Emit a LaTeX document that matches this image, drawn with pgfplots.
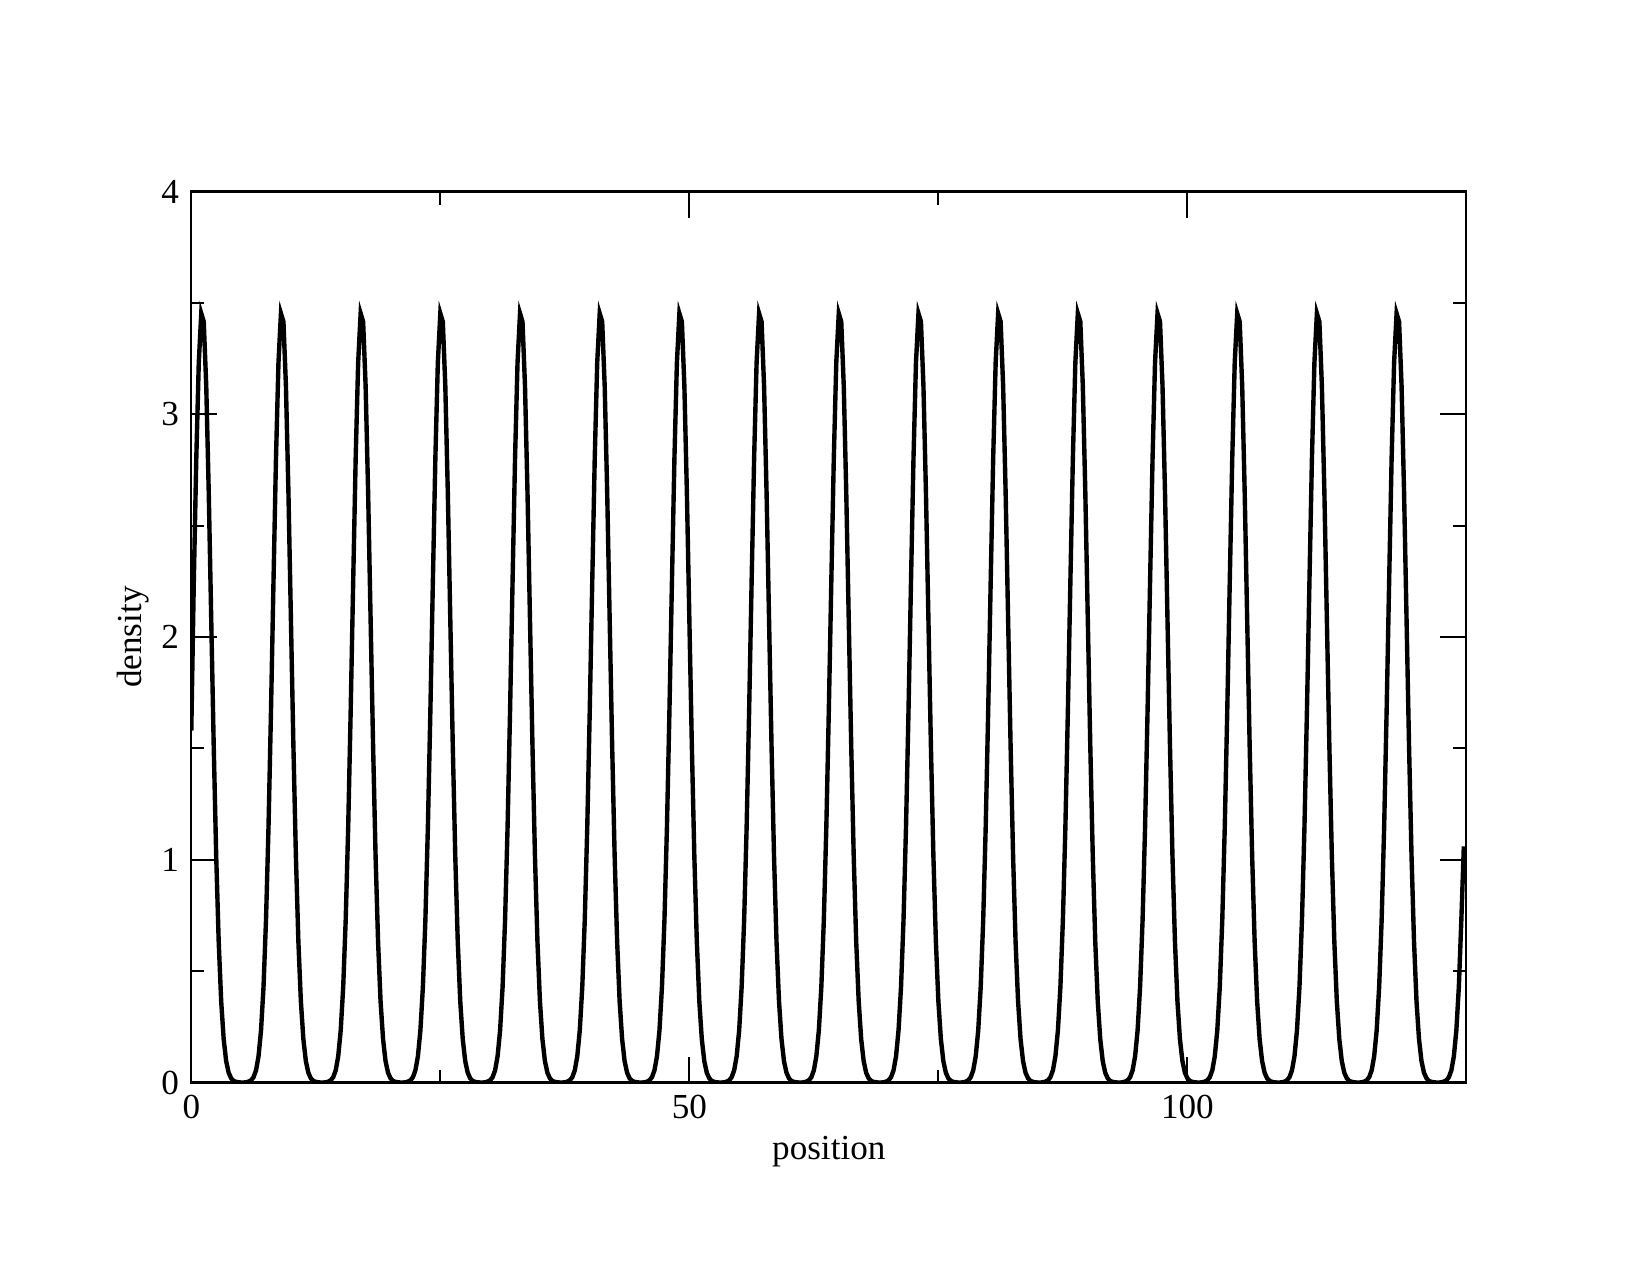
\documentclass[border=0pt]{standalone}
\usepackage{fontspec}
\setmainfont{Liberation Serif}
\usepackage{pgfplots}
\pgfplotsset{compat=1.18}

\begin{document}
\begin{tikzpicture}
% page frame: 1651 x 1275 px at 0.01cm per px
\path (0,0) rectangle (16.51cm,12.75cm);
\begin{axis}[
  at={(1.913cm,1.925cm)}, anchor=south west,
  scale only axis, width=12.75cm, height=8.91cm,
  xmin=0, xmax=128, ymin=0, ymax=4,
  xtick={0,50,100}, ytick={0,1,2,3,4},
  minor x tick num=1, minor y tick num=1,
  tick align=inside, major tick length=0.26cm, minor tick length=0.13cm,
  tick style={black, line width=0.6pt},
  axis line style={line width=0.6pt},
  ticklabel style={font=\fontsize{10}{12}\selectfont},
  /pgf/number format/assume math mode=true,
  xlabel={position}, ylabel={density},
  label style={font=\fontsize{10}{12}\selectfont},
  xlabel style={at={(axis description cs:0.5,-0.077)}, anchor=center},
  ylabel style={at={(axis description cs:-0.0455,0.5)}, anchor=center},
]
\addplot[black, line width=1.25pt] coordinates {
(0,1.58) (0.25,2.245) (0.5,2.799) (0.75,3.231) (1,3.453) (1.25,3.416) (1.5,3.128) (1.75,2.652) (2,2.081) (2.25,1.512) (2.5,1.017) (2.75,0.633) (3,0.365) (3.25,0.195) (3.5,0.096) (3.75,0.044) (4,0.019) (4.25,0.007) (4.5,0.003) (4.75,0.001) (5,0) (5.25,0) (5.5,0.001) (5.75,0.004) (6,0.010) (6.25,0.024) (6.5,0.055) (6.75,0.118) (7,0.234) (7.25,0.429) (7.5,0.729) (7.75,1.145)
(8,1.667) (8.25,2.245) (8.5,2.799) (8.75,3.231) (9,3.453) (9.25,3.416) (9.5,3.128) (9.75,2.652) (10,2.081) (10.25,1.512) (10.5,1.017) (10.75,0.633) (11,0.365) (11.25,0.195) (11.5,0.096) (11.75,0.044) (12,0.019) (12.25,0.007) (12.5,0.003) (12.75,0.001) (13,0) (13.25,0) (13.5,0.001) (13.75,0.004) (14,0.010) (14.25,0.024) (14.5,0.055) (14.75,0.118) (15,0.234) (15.25,0.429) (15.5,0.729) (15.75,1.145)
(16,1.667) (16.25,2.245) (16.5,2.799) (16.75,3.231) (17,3.453) (17.25,3.416) (17.5,3.128) (17.75,2.652) (18,2.081) (18.25,1.512) (18.5,1.017) (18.75,0.633) (19,0.365) (19.25,0.195) (19.5,0.096) (19.75,0.044) (20,0.019) (20.25,0.007) (20.5,0.003) (20.75,0.001) (21,0) (21.25,0) (21.5,0.001) (21.75,0.004) (22,0.010) (22.25,0.024) (22.5,0.055) (22.75,0.118) (23,0.234) (23.25,0.429) (23.5,0.729) (23.75,1.145)
(24,1.667) (24.25,2.245) (24.5,2.799) (24.75,3.231) (25,3.453) (25.25,3.416) (25.5,3.128) (25.75,2.652) (26,2.081) (26.25,1.512) (26.5,1.017) (26.75,0.633) (27,0.365) (27.25,0.195) (27.5,0.096) (27.75,0.044) (28,0.019) (28.25,0.007) (28.5,0.003) (28.75,0.001) (29,0) (29.25,0) (29.5,0.001) (29.75,0.004) (30,0.010) (30.25,0.024) (30.5,0.055) (30.75,0.118) (31,0.234) (31.25,0.429) (31.5,0.729) (31.75,1.145)
(32,1.667) (32.25,2.245) (32.5,2.799) (32.75,3.231) (33,3.453) (33.25,3.416) (33.5,3.128) (33.75,2.652) (34,2.081) (34.25,1.512) (34.5,1.017) (34.75,0.633) (35,0.365) (35.25,0.195) (35.5,0.096) (35.75,0.044) (36,0.019) (36.25,0.007) (36.5,0.003) (36.75,0.001) (37,0) (37.25,0) (37.5,0.001) (37.75,0.004) (38,0.010) (38.25,0.024) (38.5,0.055) (38.75,0.118) (39,0.234) (39.25,0.429) (39.5,0.729) (39.75,1.145)
(40,1.667) (40.25,2.245) (40.5,2.799) (40.75,3.231) (41,3.453) (41.25,3.416) (41.5,3.128) (41.75,2.652) (42,2.081) (42.25,1.512) (42.5,1.017) (42.75,0.633) (43,0.365) (43.25,0.195) (43.5,0.096) (43.75,0.044) (44,0.019) (44.25,0.007) (44.5,0.003) (44.75,0.001) (45,0) (45.25,0) (45.5,0.001) (45.75,0.004) (46,0.010) (46.25,0.024) (46.5,0.055) (46.75,0.118) (47,0.234) (47.25,0.429) (47.5,0.729) (47.75,1.145)
(48,1.667) (48.25,2.245) (48.5,2.799) (48.75,3.231) (49,3.453) (49.25,3.416) (49.5,3.128) (49.75,2.652) (50,2.081) (50.25,1.512) (50.5,1.017) (50.75,0.633) (51,0.365) (51.25,0.195) (51.5,0.096) (51.75,0.044) (52,0.019) (52.25,0.007) (52.5,0.003) (52.75,0.001) (53,0) (53.25,0) (53.5,0.001) (53.75,0.004) (54,0.010) (54.25,0.024) (54.5,0.055) (54.75,0.118) (55,0.234) (55.25,0.429) (55.5,0.729) (55.75,1.145)
(56,1.667) (56.25,2.245) (56.5,2.799) (56.75,3.231) (57,3.453) (57.25,3.416) (57.5,3.128) (57.75,2.652) (58,2.081) (58.25,1.512) (58.5,1.017) (58.75,0.633) (59,0.365) (59.25,0.195) (59.5,0.096) (59.75,0.044) (60,0.019) (60.25,0.007) (60.5,0.003) (60.75,0.001) (61,0) (61.25,0) (61.5,0.001) (61.75,0.004) (62,0.010) (62.25,0.024) (62.5,0.055) (62.75,0.118) (63,0.234) (63.25,0.429) (63.5,0.729) (63.75,1.145)
(64,1.667) (64.25,2.245) (64.5,2.799) (64.75,3.231) (65,3.453) (65.25,3.416) (65.5,3.128) (65.75,2.652) (66,2.081) (66.25,1.512) (66.5,1.017) (66.75,0.633) (67,0.365) (67.25,0.195) (67.5,0.096) (67.75,0.044) (68,0.019) (68.25,0.007) (68.5,0.003) (68.75,0.001) (69,0) (69.25,0) (69.5,0.001) (69.75,0.004) (70,0.010) (70.25,0.024) (70.5,0.055) (70.75,0.118) (71,0.234) (71.25,0.429) (71.5,0.729) (71.75,1.145)
(72,1.667) (72.25,2.245) (72.5,2.799) (72.75,3.231) (73,3.453) (73.25,3.416) (73.5,3.128) (73.75,2.652) (74,2.081) (74.25,1.512) (74.5,1.017) (74.75,0.633) (75,0.365) (75.25,0.195) (75.5,0.096) (75.75,0.044) (76,0.019) (76.25,0.007) (76.5,0.003) (76.75,0.001) (77,0) (77.25,0) (77.5,0.001) (77.75,0.004) (78,0.010) (78.25,0.024) (78.5,0.055) (78.75,0.118) (79,0.234) (79.25,0.429) (79.5,0.729) (79.75,1.145)
(80,1.667) (80.25,2.245) (80.5,2.799) (80.75,3.231) (81,3.453) (81.25,3.416) (81.5,3.128) (81.75,2.652) (82,2.081) (82.25,1.512) (82.5,1.017) (82.75,0.633) (83,0.365) (83.25,0.195) (83.5,0.096) (83.75,0.044) (84,0.019) (84.25,0.007) (84.5,0.003) (84.75,0.001) (85,0) (85.25,0) (85.5,0.001) (85.75,0.004) (86,0.010) (86.25,0.024) (86.5,0.055) (86.75,0.118) (87,0.234) (87.25,0.429) (87.5,0.729) (87.75,1.145)
(88,1.667) (88.25,2.245) (88.5,2.799) (88.75,3.231) (89,3.453) (89.25,3.416) (89.5,3.128) (89.75,2.652) (90,2.081) (90.25,1.512) (90.5,1.017) (90.75,0.633) (91,0.365) (91.25,0.195) (91.5,0.096) (91.75,0.044) (92,0.019) (92.25,0.007) (92.5,0.003) (92.75,0.001) (93,0) (93.25,0) (93.5,0.001) (93.75,0.004) (94,0.010) (94.25,0.024) (94.5,0.055) (94.75,0.118) (95,0.234) (95.25,0.429) (95.5,0.729) (95.75,1.145)
(96,1.667) (96.25,2.245) (96.5,2.799) (96.75,3.231) (97,3.453) (97.25,3.416) (97.5,3.128) (97.75,2.652) (98,2.081) (98.25,1.512) (98.5,1.017) (98.75,0.633) (99,0.365) (99.25,0.195) (99.5,0.096) (99.75,0.044) (100,0.019) (100.25,0.007) (100.5,0.003) (100.75,0.001) (101,0) (101.25,0) (101.5,0.001) (101.75,0.004) (102,0.010) (102.25,0.024) (102.5,0.055) (102.75,0.118) (103,0.234) (103.25,0.429) (103.5,0.729) (103.75,1.145)
(104,1.667) (104.25,2.245) (104.5,2.799) (104.75,3.231) (105,3.453) (105.25,3.416) (105.5,3.128) (105.75,2.652) (106,2.081) (106.25,1.512) (106.5,1.017) (106.75,0.633) (107,0.365) (107.25,0.195) (107.5,0.096) (107.75,0.044) (108,0.019) (108.25,0.007) (108.5,0.003) (108.75,0.001) (109,0) (109.25,0) (109.5,0.001) (109.75,0.004) (110,0.010) (110.25,0.024) (110.5,0.055) (110.75,0.118) (111,0.234) (111.25,0.429) (111.5,0.729) (111.75,1.145)
(112,1.667) (112.25,2.245) (112.5,2.799) (112.75,3.231) (113,3.453) (113.25,3.416) (113.5,3.128) (113.75,2.652) (114,2.081) (114.25,1.512) (114.5,1.017) (114.75,0.633) (115,0.365) (115.25,0.195) (115.5,0.096) (115.75,0.044) (116,0.019) (116.25,0.007) (116.5,0.003) (116.75,0.001) (117,0) (117.25,0) (117.5,0.001) (117.75,0.004) (118,0.010) (118.25,0.024) (118.5,0.055) (118.75,0.118) (119,0.234) (119.25,0.429) (119.5,0.729) (119.75,1.145)
(120,1.667) (120.25,2.245) (120.5,2.799) (120.75,3.231) (121,3.453) (121.25,3.416) (121.5,3.128) (121.75,2.652) (122,2.081) (122.25,1.512) (122.5,1.017) (122.75,0.633) (123,0.365) (123.25,0.195) (123.5,0.096) (123.75,0.044) (124,0.019) (124.25,0.007) (124.5,0.003) (124.75,0.001) (125,0) (125.25,0) (125.5,0.001) (125.75,0.004) (126,0.010) (126.25,0.024) (126.5,0.055) (126.75,0.118) (127,0.234) (127.25,0.429) (127.5,0.729) (127.75,1.06)
};
\end{axis}
\end{tikzpicture}
\end{document}
